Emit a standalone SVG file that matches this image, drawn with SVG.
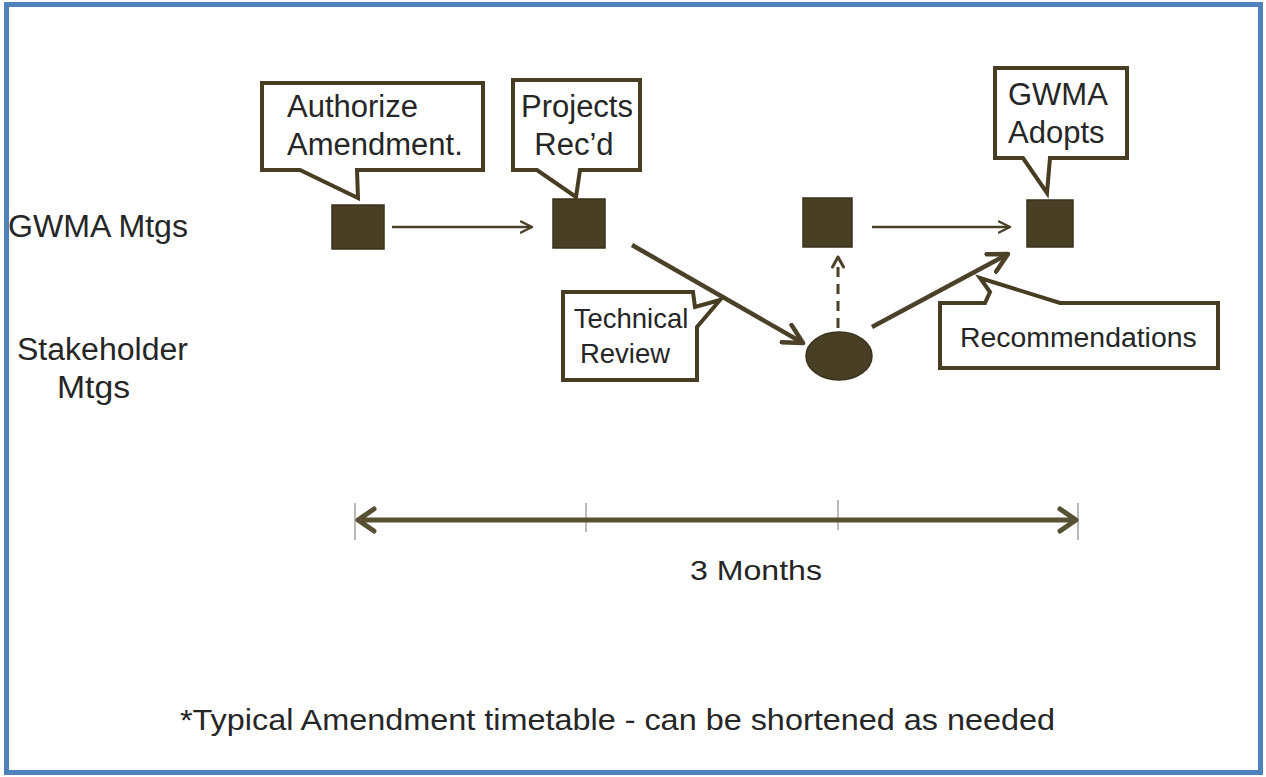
<svg xmlns="http://www.w3.org/2000/svg" width="1266" height="777" viewBox="0 0 1266 777">
<style>
.txt{font-family:"Liberation Sans",Arial,sans-serif;fill:#262626}
.callout{fill:#fff;stroke:#463d22;stroke-width:4;stroke-linejoin:miter}
.node{fill:#483f25;stroke:#3a321c;stroke-width:1.5}
.thin{stroke:#4a4128;stroke-width:2.5;fill:none}
.thick{stroke:#4a4128;stroke-width:4.5;fill:none}
.dash{stroke:#4a4128;stroke-width:3;fill:none;stroke-dasharray:10,7}
.tick{stroke:#8a8a8a;stroke-width:1.2}
.timeline{stroke:#585033;stroke-width:5;fill:none}
</style>
<defs>
<marker id="hThin" viewBox="0 0 14 14" refX="12" refY="7" markerWidth="14" markerHeight="14" markerUnits="userSpaceOnUse" orient="auto">
<path d="M1,1.5 L12,7 L1,12.5" fill="none" stroke="#4a4128" stroke-width="2.5" stroke-linecap="round" stroke-linejoin="round"/>
</marker>
<marker id="hThick" viewBox="0 0 24 24" refX="21" refY="12" markerWidth="24" markerHeight="24" markerUnits="userSpaceOnUse" orient="auto">
<path d="M2,2 L21,12 L2,22" fill="none" stroke="#4a4128" stroke-width="4.5" stroke-linecap="round" stroke-linejoin="round"/>
</marker>
<marker id="hDash" viewBox="0 0 14 14" refX="12" refY="7" markerWidth="14" markerHeight="14" markerUnits="userSpaceOnUse" orient="auto">
<path d="M2,1.5 L12,7 L2,12.5" fill="none" stroke="#4a4128" stroke-width="3" stroke-linecap="round" stroke-linejoin="round"/>
</marker>
<marker id="hLine" viewBox="0 0 24 28" refX="21" refY="14" markerWidth="24" markerHeight="28" markerUnits="userSpaceOnUse" orient="auto-start-reverse">
<path d="M5,3 L21,14 L5,25" fill="none" stroke="#585033" stroke-width="5" stroke-linecap="round" stroke-linejoin="round"/>
</marker>
</defs>
<rect x="0" y="0" width="1266" height="777" fill="#fff"/>
<rect x="6.5" y="4.5" width="1254" height="768" fill="none" stroke="#4f81bd" stroke-width="5"/>

<g id="labels">
<text class="txt" x="8" y="237" font-size="31" textLength="180" lengthAdjust="spacingAndGlyphs">GWMA Mtgs</text>
<text class="txt" x="17" y="360" font-size="31" textLength="171" lengthAdjust="spacingAndGlyphs">Stakeholder</text>
<text class="txt" x="57" y="398" font-size="31" textLength="73" lengthAdjust="spacingAndGlyphs">Mtgs</text>
</g>

<g id="connectors">
<line class="thin" x1="392" y1="227" x2="532" y2="227" marker-end="url(#hThin)"/>
<line class="thin" x1="872" y1="227" x2="1010" y2="227" marker-end="url(#hThin)"/>
<line class="thick" x1="632" y1="245" x2="803" y2="343" marker-end="url(#hThick)"/>
<line class="thick" x1="872" y1="327" x2="1008" y2="254" marker-end="url(#hThick)"/>
<line class="dash" x1="838" y1="328" x2="838" y2="257" marker-end="url(#hDash)"/>
</g>

<g id="node-sq1"><rect class="node" x="332" y="205" width="52" height="44"/></g>
<g id="node-sq2"><rect class="node" x="553" y="199" width="52" height="49"/></g>
<g id="node-sq3"><rect class="node" x="803" y="198" width="49" height="49"/></g>
<g id="node-sq4"><rect class="node" x="1027" y="200" width="46" height="47"/></g>
<g id="node-ellipse"><ellipse class="node" cx="839" cy="356" rx="33" ry="24"/></g>

<g id="callout-authorize">
<path class="callout" d="M262,83 H483 V170 H357 L358,198 L300,170 H262 Z"/>
<text class="txt" x="287" y="117" font-size="31">Authorize</text>
<text class="txt" x="287" y="155" font-size="31">Amendment.</text>
</g>
<g id="callout-projects">
<path class="callout" d="M513,80 H640 V170 H580 L576,197 L537,170 H513 Z"/>
<text class="txt" x="577" y="117" font-size="31" text-anchor="middle">Projects</text>
<text class="txt" x="574" y="155" font-size="31" text-anchor="middle">Rec’d</text>
</g>
<g id="callout-adopts">
<path class="callout" d="M995,68 H1127 V158 H1050 L1047,193 L1023,158 H995 Z"/>
<text class="txt" x="1008" y="105" font-size="31">GWMA</text>
<text class="txt" x="1008" y="143" font-size="31">Adopts</text>
</g>
<g id="callout-technical">
<path class="callout" d="M563,292 H693 L695,307 L720,300 L697,327 V380 H563 Z"/>
<text class="txt" x="631" y="328" font-size="27.5" text-anchor="middle">Technical</text>
<text class="txt" x="625" y="363" font-size="27.5" text-anchor="middle">Review</text>
</g>
<g id="callout-recommendations">
<path class="callout" d="M940,303 H985 L990,292 L980,278 L1060,303 H1218 V368 H940 Z"/>
<text class="txt" x="960" y="347" font-size="28.4">Recommendations</text>
</g>

<g id="timeline">
<line class="tick" x1="355" y1="503" x2="355" y2="540"/>
<line class="tick" x1="586" y1="503" x2="586" y2="532"/>
<line class="tick" x1="838" y1="500" x2="838" y2="530"/>
<line class="tick" x1="1078" y1="503" x2="1078" y2="540"/>
<line class="timeline" x1="358" y1="520" x2="1076" y2="520" marker-start="url(#hLine)" marker-end="url(#hLine)"/>
<text class="txt" x="690" y="580" font-size="28" textLength="132" lengthAdjust="spacingAndGlyphs">3 Months</text>
</g>

<text class="txt" x="180" y="730" font-size="29" textLength="875" lengthAdjust="spacingAndGlyphs">*Typical Amendment timetable - can be shortened as needed</text>
</svg>
